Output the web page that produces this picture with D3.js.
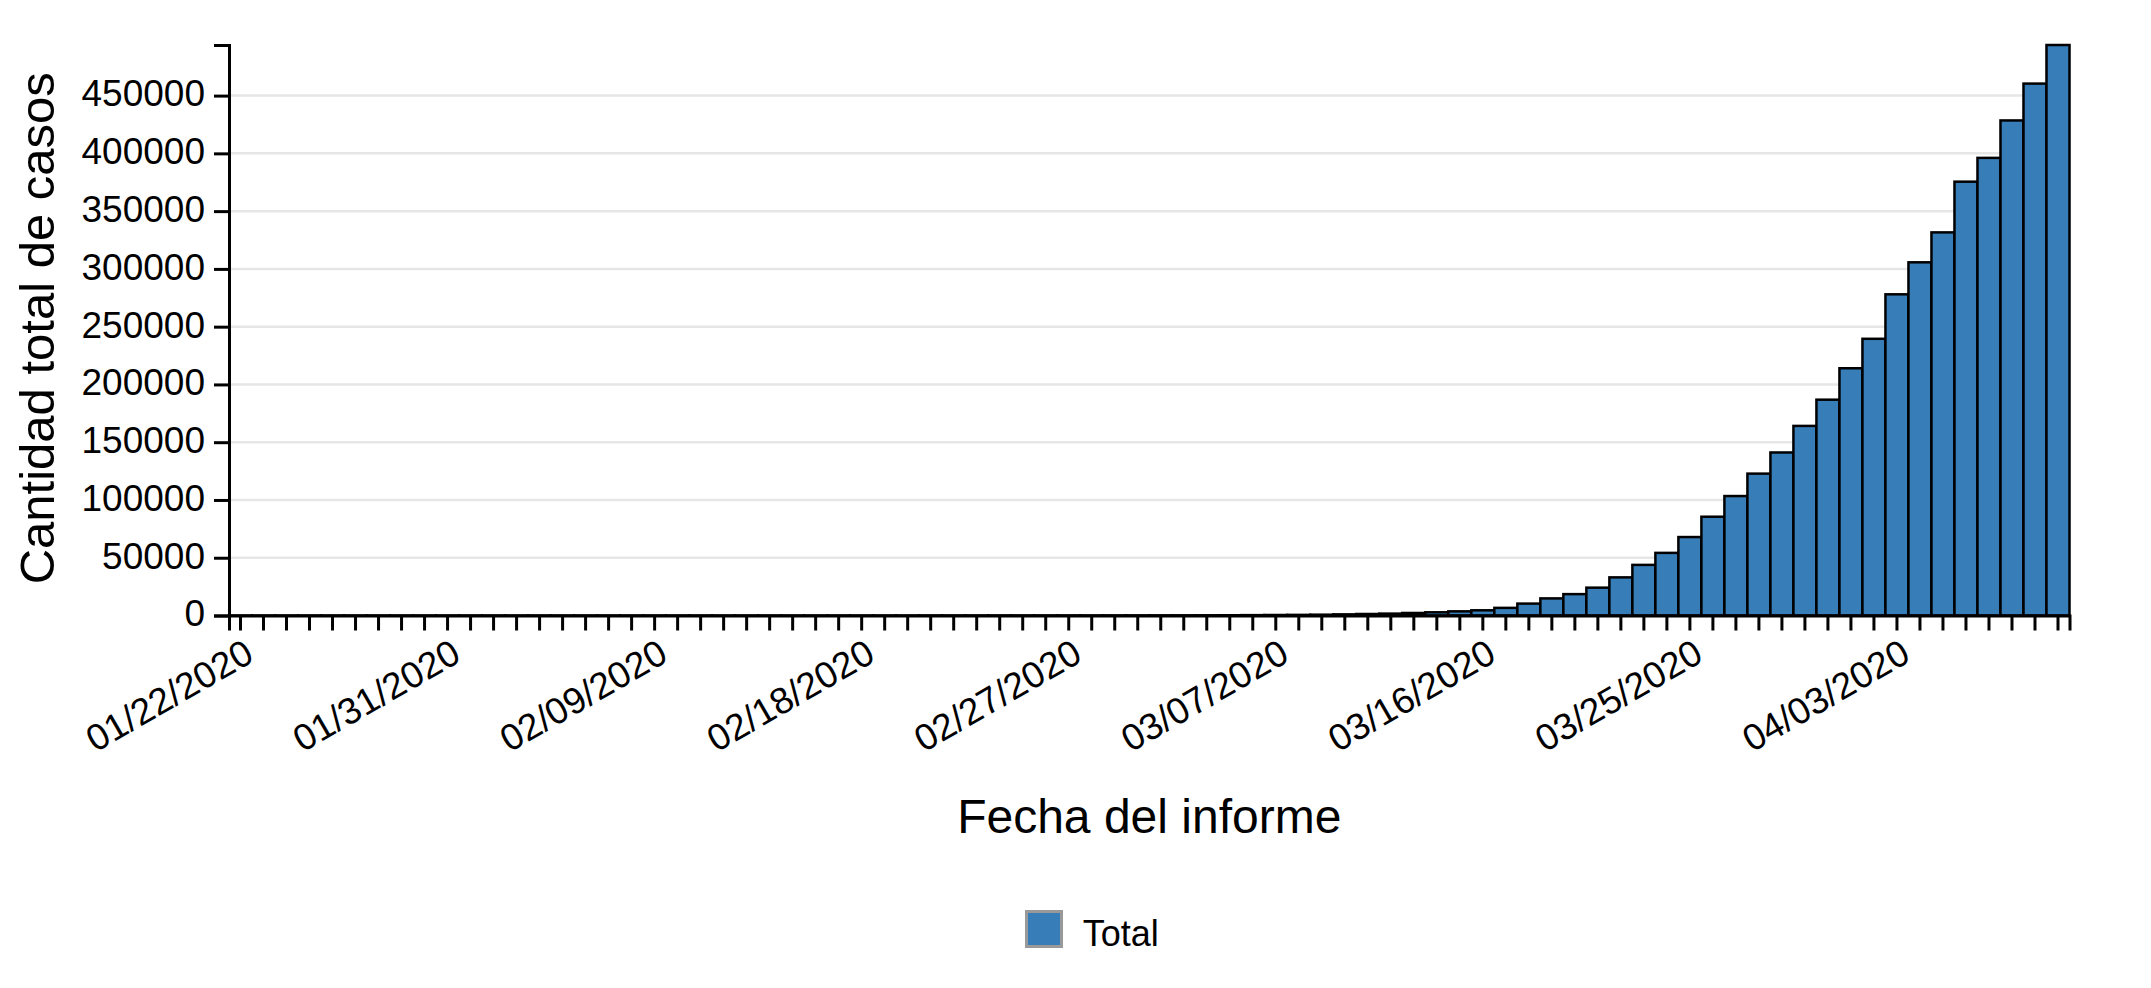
<!DOCTYPE html>
<html><head><meta charset="utf-8">
<script src="https://cdn.jsdelivr.net/npm/d3@7"></script>
<style>
body{margin:0;background:#fff;}
svg text{font-family:"Liberation Sans", Arial, Helvetica, sans-serif;}
</style>
</head><body>
<svg id="c" width="2151" height="988"></svg>
<script>
// ---- data ----
const dates = [
"01/22/2020","01/23/2020","01/24/2020","01/25/2020","01/26/2020","01/27/2020","01/28/2020","01/29/2020","01/30/2020","01/31/2020",
"02/01/2020","02/02/2020","02/03/2020","02/04/2020","02/05/2020","02/06/2020","02/07/2020","02/08/2020","02/09/2020","02/10/2020",
"02/11/2020","02/12/2020","02/13/2020","02/14/2020","02/15/2020","02/16/2020","02/17/2020","02/18/2020","02/19/2020","02/20/2020",
"02/21/2020","02/22/2020","02/23/2020","02/24/2020","02/25/2020","02/26/2020","02/27/2020","02/28/2020","02/29/2020","03/01/2020",
"03/02/2020","03/03/2020","03/04/2020","03/05/2020","03/06/2020","03/07/2020","03/08/2020","03/09/2020","03/10/2020","03/11/2020",
"03/12/2020","03/13/2020","03/14/2020","03/15/2020","03/16/2020","03/17/2020","03/18/2020","03/19/2020","03/20/2020","03/21/2020",
"03/22/2020","03/23/2020","03/24/2020","03/25/2020","03/26/2020","03/27/2020","03/28/2020","03/29/2020","03/30/2020","03/31/2020",
"04/01/2020","04/02/2020","04/03/2020","04/04/2020","04/05/2020","04/06/2020","04/07/2020","04/08/2020","04/09/2020","04/10/2020"
];
const totals = [
1,1,2,2,5,5,5,5,6,7,
8,8,11,11,12,12,12,12,12,13,
13,14,15,15,15,15,15,15,15,15,
35,35,35,53,57,60,60,62,68,75,
100,124,158,221,319,435,541,704,994,1301,
1630,2183,2770,3600,4500,6600,10300,14800,18500,24100,
33000,43800,54200,67900,85500,103400,122800,141100,164100,186800,
214000,239500,278000,305700,331600,375500,396100,428500,460400,493800
];
const yTicks = [0,50000,100000,150000,200000,250000,300000,350000,400000,450000];
const xTickLabels = ["01/22/2020","01/31/2020","02/09/2020","02/18/2020","02/27/2020","03/07/2020","03/16/2020","03/25/2020","04/03/2020"];
const seriesName = "Total";
const xTitle = "Fecha del informe";
const yTitle = "Cantidad total de casos";

// ---- chart ----
const svg = d3.select("#c");
const x0 = 229, x1 = 2069.5, yBase = 615.5, yTop = 45;
const x = d3.scaleBand().domain(dates).range([x0, x1]).padding(0);
const y = d3.scaleLinear().domain([0, d3.max(totals)]).range([yBase, yTop]);

svg.append("defs").append("clipPath").attr("id", "pageClip")
  .append("rect").attr("x", 16).attr("y", 0).attr("width", 2135).attr("height", 988);

// grid
svg.append("g").selectAll("line").data(yTicks.filter(d => d > 0)).join("line")
  .attr("x1", x0).attr("x2", x1)
  .attr("y1", d => y(d)).attr("y2", d => y(d))
  .attr("stroke", "#e6e6e6").attr("stroke-width", 2.5);

// bars
svg.append("g").selectAll("rect").data(dates).join("rect")
  .attr("x", d => x(d)).attr("width", x.bandwidth())
  .attr("y", (d, i) => y(totals[i]))
  .attr("height", (d, i) => y(0) - y(totals[i]))
  .attr("fill", "#377eb8").attr("stroke", "#000").attr("stroke-width", 2.5);

// y axis
const gy = svg.append("g").attr("transform", `translate(${x0},0)`)
  .call(d3.axisLeft(y).tickValues(yTicks).tickSize(15).tickSizeOuter(15).tickPadding(9).tickFormat(d3.format("d")));
gy.attr("font-family", null).attr("font-size", 37);
gy.selectAll("path,line").attr("stroke", "#000").attr("stroke-width", 3);
gy.selectAll("text").attr("fill", "#000").attr("dy", "0.28em");

// x axis
const gx = svg.append("g").attr("transform", `translate(0,${yBase})`)
  .call(d3.axisBottom(x).tickSize(15).tickSizeOuter(15).tickFormat(d => xTickLabels.includes(d) ? d : ""));
gx.attr("font-family", null).attr("font-size", 37);
gx.selectAll("path,line").attr("stroke", "#000").attr("stroke-width", 3);
gx.selectAll("text").attr("fill", "#000")
  .attr("y", 0).attr("dy", 0)
  .attr("text-anchor", "end")
  .attr("transform", "translate(15.3,44.6) rotate(-30)");

// axis titles
svg.append("text").attr("x", (x0 + x1) / 2).attr("y", 833)
  .attr("text-anchor", "middle").attr("font-size", 48).attr("fill", "#000").text(xTitle);
svg.append("g").attr("clip-path", "url(#pageClip)")
  .append("text").attr("transform", `translate(54,${(yTop + yBase) / 2 - 2}) rotate(-90)`)
  .attr("text-anchor", "middle").attr("font-size", 49).attr("fill", "#000").text(yTitle);

// legend
const lg = svg.append("g");
lg.append("rect").attr("x", 1026.5).attr("y", 911.5).attr("width", 35).attr("height", 35)
  .attr("fill", "#377eb8").attr("stroke", "#999").attr("stroke-width", 3);
lg.append("text").attr("x", 1082.7).attr("y", 946).attr("font-size", 36).attr("fill", "#000").text(seriesName);
</script>
</body></html>
